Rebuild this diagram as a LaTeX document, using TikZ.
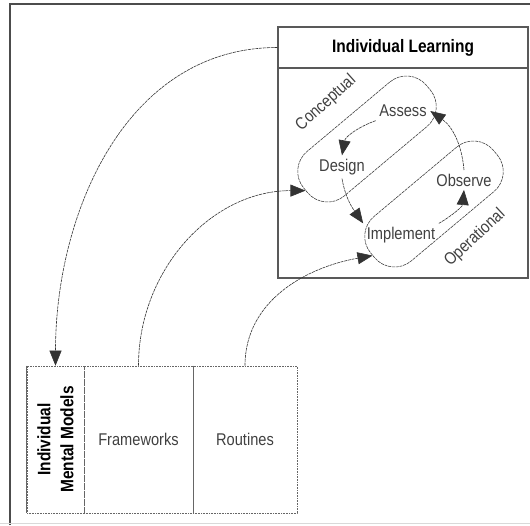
\documentclass[tikz,border=0pt]{standalone}
\usepackage{fontspec}
\setmainfont{Liberation Sans}
\newfontfamily\narrowfont[FakeStretch=0.86]{Liberation Sans}
\usetikzlibrary{arrows.meta}

\begin{document}
\begin{tikzpicture}[x=1pt, y=1pt, thick, >={Triangle[length=15pt,width=12pt]},
  every node/.style={font=\narrowfont\fontsize{17}{20}\selectfont, text=black!75},
  flow/.style={->, black!80, line width=0.6pt, dash pattern=on 3pt off 0.8pt},
  cyclebox/.style={draw=black!75, line width=0.6pt, dash pattern=on 3pt off 0.8pt,
    rounded corners=26pt, minimum width=160pt, minimum height=58pt, rotate=40},
  cellbox/.style={draw=black!60, line width=0.6pt, densely dotted, minimum height=147pt},
  boldtext/.style={font=\narrowfont\bfseries\fontsize{18}{23}\selectfont, text=black}]
  \useasboundingbox (0,0) rectangle (530,525);
  % frame
  \draw[black!70, line width=1.5pt] (10,0) -- (10,521) -- (530,521);
  \draw[black!15, line width=0.8pt] (0,2) -- (530,2);
  % learning box
  \node[draw=black!65, line width=1.2pt, minimum width=250pt, minimum height=41pt, boldtext] (learnhead) at (403,477.5) {Individual Learning};
  \node[draw=black!65, line width=1.2pt, minimum width=250pt, minimum height=210pt] (learnbody) at (403,352) {};
  \node[cyclebox] (concept) at (367,386) {};
  \node[cyclebox] (operate) at (434,321) {};
  \node[rotate=42, inner sep=1pt] (conlabel) at (326,422) {Conceptual};
  \node[rotate=43, inner sep=1pt] (oplabel) at (475,287) {Operational};
  \node (assess) at (403,414) {Assess};
  \node (design) at (342,358) {Design};
  \node (observe) at (464,345) {Observe};
  \node (implement) at (401,290) {Implement};
  % mental models
  \node[cellbox, minimum width=57pt] (mmcell) at (55.5,85.5) {};
  \node[cellbox, minimum width=109pt] (fwcell) at (138.5,85.5) {Frameworks};
  \node[cellbox, minimum width=104pt] (rtcell) at (245,85.5) {Routines};
  \draw[black!60, line width=0.6pt] (fwcell.north east) -- (fwcell.south east);
  \draw[black!60, line width=0.6pt] (mmcell.north west) -- (mmcell.south west);
  \node[rotate=90, align=center, boldtext] (mmtext) at (mmcell) {Individual\\Mental Models};
  % arrows
  \draw[flow] (learnhead.west) to[out=180, in=90] (mmcell.north);
  \draw[flow] (fwcell.north) to[out=90, in=180] (concept.west);
  \draw[flow] (rtcell.north) to[out=90, in=190] (operate.west);
  \draw[flow] (assess.south west) to[out=200, in=80] (design.north);
  \draw[flow] (design.south) to[out=-80, in=125] (implement.north west);
  \draw[flow] (implement.north east) to[out=30, in=-95] (observe.south);
  \draw[flow] (observe.north) to[out=95, in=-35] (assess.east);
\end{tikzpicture}
\end{document}
